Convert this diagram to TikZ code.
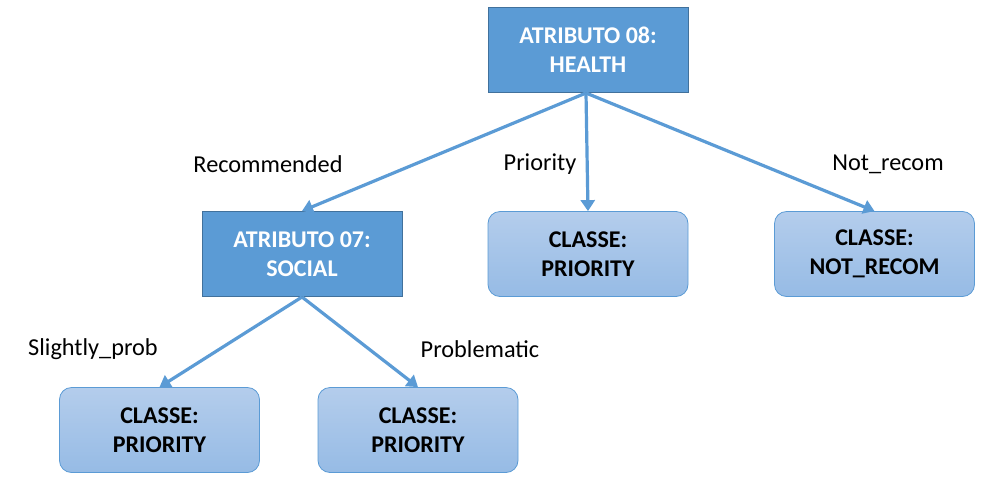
\documentclass[tikz,border=0pt]{standalone}
\usepackage{fontspec}
\setmainfont{Carlito}
\usetikzlibrary{arrows.meta}
\definecolor{mainblue}{HTML}{5B9BD5}
\definecolor{darkborder}{HTML}{41719C}
\definecolor{leaftop}{RGB}{180,205,236}
\definecolor{leafbot}{RGB}{150,187,229}
\tikzset{
  attr/.style={draw=darkborder, line width=1pt, fill=mainblue, minimum width=200pt, minimum height=85pt,
    text=white, font=\fontsize{24}{29}\selectfont\bfseries, align=center, inner sep=0pt},
  leaf/.style={draw=mainblue, line width=0.8pt, rounded corners=12pt, top color=leaftop, bottom color=leafbot,
    minimum width=200pt, minimum height=85pt, text=black, font=\fontsize{24}{29}\selectfont\bfseries, align=center, inner sep=0pt},
  edge/.style={draw=mainblue, line width=3.2pt, -{Triangle[length=11pt,width=14pt]}},
  lbl/.style={font=\fontsize{24.3}{28}\selectfont, text=black, inner sep=0pt}
}
\begin{document}
\begin{tikzpicture}[x=1pt,y=-1pt]
\useasboundingbox (0,0) rectangle (983,491);
\node[attr] (health) at (588,49.5) {ATRIBUTO 08:\\HEALTH};
\node[attr] (social) at (302,254) {ATRIBUTO 07:\\SOCIAL};
\node[leaf] (prio) at (588,254) {CLASSE:\\PRIORITY};
\node[leaf] (notrec) at (874.5,254) {CLASSE:\\NOT\_RECOM};
\node[leaf] (slight) at (159.5,430) {CLASSE:\\PRIORITY};
\node[leaf] (probl) at (418,430) {CLASSE:\\PRIORITY};
\coordinate (hb) at (586,93);
\coordinate (sb) at (302,297);
\draw[edge] (hb) -- (social.north);
\draw[edge] (hb) -- (prio.north);
\draw[edge] (hb) -- (notrec.north);
\draw[edge] (sb) -- (slight.north);
\draw[edge] (sb) -- (probl.north);
\node[lbl] (l1) at (268,164) {Recommended};
\node[lbl] (l2) at (540,164) {Priority};
\node[lbl] (l3) at (888,164) {Not\_recom};
\node[lbl] (l4) at (93,349) {Slightly\_prob};
\node[lbl] (l5) at (480,349) {Problematic};
\end{tikzpicture}
\end{document}
